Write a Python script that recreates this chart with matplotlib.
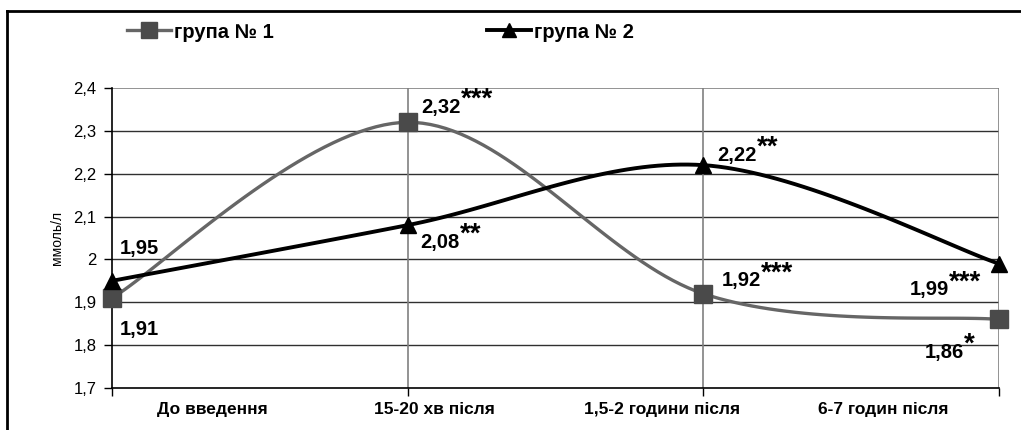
import numpy as np
import matplotlib.pyplot as plt
from matplotlib.lines import Line2D

plt.rcParams['font.family'] = ['Liberation Sans', 'DejaVu Sans']

categories = ['До введення', '15-20 хв після', '1,5-2 години після', '6-7 годин після']
group1 = [1.91, 2.32, 1.92, 1.86]
group2 = [1.95, 2.08, 2.22, 1.99]
stars1 = ['', '***', '***', '*']
stars2 = ['', '**', '**', '***']
label_pos = [0.34, 1.09, 1.86, 2.61]


def smooth(y, n=40):
    # Excel-like smoothed line (Bezier through points)
    x = np.arange(len(y), dtype=float)
    p = np.column_stack([x, y])
    ext = np.vstack([p[0], p, p[-1]])
    out = []
    for i in range(len(p) - 1):
        p0, p1, p2, p3 = ext[i], ext[i + 1], ext[i + 2], ext[i + 3]
        c1 = p1 + (p2 - p0) / 6
        c2 = p2 - (p3 - p1) / 6
        t = np.linspace(0, 1, n)[:, None]
        seg = (1 - t) ** 3 * p1 + 3 * (1 - t) ** 2 * t * c1 + 3 * (1 - t) * t ** 2 * c2 + t ** 3 * p2
        out.append(seg)
    out = np.vstack(out)
    return out[:, 0], out[:, 1]


fig = plt.figure(figsize=(10.21, 4.30), dpi=100)
ax = fig.add_axes([112 / 1021, 42 / 430, 887 / 1021, 300 / 430])

x = np.arange(len(categories))

sx, sy = smooth(group1)
ax.plot(sx, sy, color='#666666', lw=2.4, zorder=3, clip_on=False)
ax.plot(x, group1, 's', color='#4a4a4a', ms=13, zorder=4, clip_on=False)
sx, sy = smooth(group2)
ax.plot(sx, sy, color='black', lw=2.8, zorder=3, clip_on=False)
ax.plot(x, group2, '^', color='black', ms=12, zorder=5, clip_on=False)

ax.set_xlim(0, 3)
ax.set_ylim(1.7, 2.4)
yt = np.round(np.arange(1.7, 2.41, 0.1), 1)
ax.set_yticks(yt)
ax.set_yticklabels([('%g' % v).replace('.', ',') for v in yt], fontsize=12)
ax.tick_params(axis='y', length=6, width=1, color='black', pad=5)
for v in yt[1:-1]:
    ax.axhline(v, color='#303030', lw=1, zorder=1)
ax.axhline(2.4, color='#808080', lw=1.2, zorder=1)
for v in x[1:]:
    ax.axvline(v, color='#808080', lw=1.2, zorder=1)

ax.set_xticks(x, minor=True)
ax.tick_params(axis='x', which='minor', length=6, width=1, color='black')
ax.set_xticks(label_pos)
ax.set_xticklabels(categories, fontsize=12.5, fontweight='bold')
ax.tick_params(axis='x', which='major', length=0, pad=10)

for s in ['top', 'right']:
    ax.spines[s].set_visible(False)
ax.spines['left'].set_linewidth(1.2)
ax.spines['bottom'].set_linewidth(1.2)

ax.set_ylabel('ммоль/л', fontsize=10, labelpad=7)

# data labels: text offset in px from the point
offs1 = [(8, -32), (14, 15), (18, 13), (-74, -33)]
offs2 = [(8, 32), (13, -17), (14, 10), (-89, -26)]


def put_label(xi, yi, val, st, off):
    txt = ('%.2f' % val).replace('.', ',')
    t = ax.annotate(txt, (xi, yi), xytext=off, textcoords='offset pixels',
                    fontsize=14.5, fontweight='bold', va='center', ha='left', zorder=6,
                    annotation_clip=False)
    if st:
        fig.canvas.draw()
        bb = t.get_window_extent()
        fig.text((bb.x1 + 0) / fig.dpi / fig.get_figwidth(), (bb.y1 - 15) / fig.dpi / fig.get_figheight(), st,
                 fontsize=20, fontweight='bold', va='bottom', ha='left', zorder=6)


for i in range(len(categories)):
    put_label(x[i], group1[i], group1[i], stars1[i], offs1[i])
    put_label(x[i], group2[i], group2[i], stars2[i], offs2[i])

# legend
h1 = Line2D([], [], color='#666666', lw=2.4, marker='s', ms=11, mfc='#4a4a4a', mec='#4a4a4a')
h2 = Line2D([], [], color='black', lw=2.8, marker='^', ms=10)
fig.legend([h1, h2], ['група № 1', 'група № 2'], loc='center left', bbox_to_anchor=(109 / 1021, 1 - 32 / 430),
           ncol=2, frameon=False, prop={'size': 14.5, 'weight': 'bold'}, handlelength=2.2,
           handletextpad=0.12, columnspacing=10.6)

# outer frame (top and left)
fig.add_artist(Line2D([7 / 1021, 7 / 1021], [0, 1 - 11 / 430], color='black', lw=2))
fig.add_artist(Line2D([7 / 1021, 1], [1 - 11 / 430, 1 - 11 / 430], color='black', lw=2))

fig.savefig('out.png', dpi=100)
